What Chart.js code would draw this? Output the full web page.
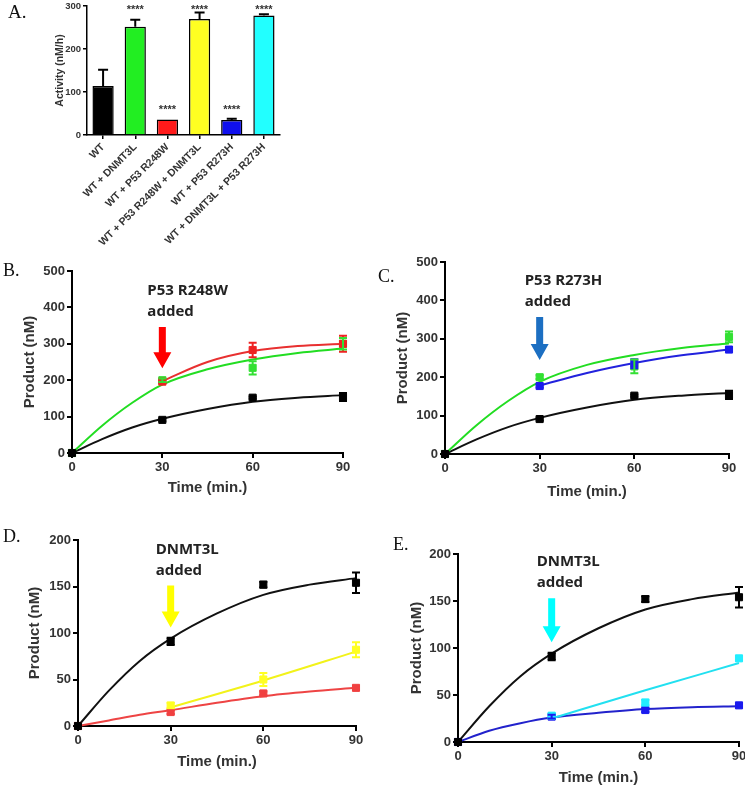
<!DOCTYPE html>
<html>
<head>
<meta charset="utf-8">
<script src="https://cdn.jsdelivr.net/npm/chart.js@4.4.1/dist/chart.umd.min.js"></script>
<style>
  body { margin: 0; background: #fff; overflow: hidden; }
  #fig { position: relative; width: 745px; height: 788px; overflow: hidden; background: #fff; }
  #fig canvas { position: absolute; }
  .lbl { position: absolute; font-family: 'Liberation Serif', serif; font-size: 18px; line-height: 18px; color: #111; }
</style>
</head>
<body>
<div id="fig">
  <canvas id="chartA"></canvas>
  <canvas id="chartB"></canvas>
  <canvas id="chartC"></canvas>
  <canvas id="chartD"></canvas>
  <canvas id="chartE"></canvas>
  <div class="lbl" style="left:8px;top:3px;font-size:19px">A.</div>
  <div class="lbl" style="left:3px;top:261px">B.</div>
  <div class="lbl" style="left:378px;top:267px">C.</div>
  <div class="lbl" style="left:3px;top:527px">D.</div>
  <div class="lbl" style="left:393px;top:535px">E.</div>
</div>
<script>
// ---- panel A : activite ----
const barLabels = ['WT', 'WT + DNMT3L', 'WT + P53 R248W', 'WT + P53 R248W + DNMT3L', 'WT + P53 R273H', 'WT + DNMT3L + P53 R273H'];
const barValues = [114, 252, 36, 270, 35, 278];
const barErrors = [38, 16, 0, 15, 3, 3];
const barStars = ['', '****', '****', '****', '****', '****'];
const starLevels = [0, 297, 65, 297, 65, 297];
const barColors = ['#000000', '#22ee22', '#ff1a1a', '#ffff22', '#1010ee', '#22ffff'];

// ---- temps ----
const times = [0, 30, 60, 90];
const lateTimes = [30, 60, 90];
const fitTimes = [0, 10, 20, 30, 45, 60, 75, 90];
const lateFitTimes = [30, 45, 60, 75, 90];

// WT seul (meme courbe dans B a E)
const wtValues = [0, 91, 152, 154];
const wtErrors = [0, 4, 3, 11];
const wtFit = [0, 38, 70, 94, 121, 141, 152, 159];

// panel B
const bGreenValues = [0, 200, 234, 300];
const bGreenErrors = [0, 5, 18, 16];
const bGreenFit = [0, 75, 138, 188, 230, 257, 275, 287];
const bRedValues = [196, 283, 300];
const bRedErrors = [5, 20, 22];
const bRedFit = [198, 250, 280, 294, 300];

// panel C
const cGreenValues = [0, 200, 228, 305];
const cGreenErrors = [0, 5, 18, 14];
const cGreenFit = [0, 75, 138, 188, 232, 258, 276, 288];
const cBlueValues = [177, 235, 272];
const cBlueErrors = [4, 12, 5];
const cBlueFit = [178, 211, 237, 257, 272];

// panel D
const dYellowValues = [22, 50, 82];
const dYellowErrors = [3, 7, 8];
const dYellowFit = [20, 49, 80];
const dRedValues = [0, 15, 35, 41];
const dRedErrors = [0, 2, 2, 2];
const dRedFit = [0, 6, 12, 17, 25, 32, 37, 41];

// panel E
const eCyanValues = [28, 42, 89];
const eCyanErrors = [2, 3, 2];
const eCyanFit = [25, 55, 84];
const eBlueValues = [0, 27, 34, 39];
const eBlueErrors = [0, 2, 2, 2];
const eBlueFit = [0, 12, 20, 26, 31, 35, 37, 38];

const FONT = "'Liberation Sans', Arial, sans-serif";
const TXT = '#333';

// barres d'erreur (dataset.errors)
const errorBars = {
  id: 'errorBars',
  afterDatasetsDraw(chart) {
    const ctx = chart.ctx;
    const y = chart.scales.y;
    chart.data.datasets.forEach((ds, i) => {
      if (!ds.errors) return;
      const meta = chart.getDatasetMeta(i);
      meta.data.forEach((el, j) => {
        const e = ds.errors[j];
        if (!e) return;
        const raw = ds.data[j];
        const v = typeof raw === 'object' ? raw.y : raw;
        const top = y.getPixelForValue(v + e);
        const bot = ds.upOnly ? el.y : y.getPixelForValue(v - e);
        const cap = ds.capWidth || 4;
        ctx.save();
        ctx.strokeStyle = ds.errorColor || ds.borderColor;
        ctx.lineWidth = 2;
        ctx.beginPath();
        ctx.moveTo(el.x, top); ctx.lineTo(el.x, bot);
        ctx.moveTo(el.x - cap, top); ctx.lineTo(el.x + cap, top);
        if (!ds.upOnly) { ctx.moveTo(el.x - cap, bot); ctx.lineTo(el.x + cap, bot); }
        ctx.stroke();
        ctx.restore();
      });
    });
  }
};

// etoiles au dessus des barres
const stars = {
  id: 'stars',
  afterDatasetsDraw(chart, args, opts) {
    if (!opts.labels) return;
    const ctx = chart.ctx;
    const meta = chart.getDatasetMeta(0);
    ctx.save();
    ctx.font = 'bold 11px ' + FONT;
    ctx.fillStyle = TXT;
    ctx.textAlign = 'center';
    ctx.textBaseline = 'alphabetic';
    meta.data.forEach((el, j) => {
      if (!opts.labels[j]) return;
      ctx.fillText(opts.labels[j], el.x, chart.scales.y.getPixelForValue(opts.levels[j]) + 6);
    });
    ctx.restore();
  }
};

// fleche "... added"
const addedNote = {
  id: 'addedNote',
  afterDraw(chart, args, opts) {
    if (!opts.lines) return;
    const ctx = chart.ctx;
    const x = chart.scales.x.getPixelForValue(opts.at);
    const top = chart.scales.y.getPixelForValue(opts.from);
    const bot = chart.scales.y.getPixelForValue(opts.to);
    const head = 16, hw = 9, sw = 3.5;
    ctx.save();
    ctx.fillStyle = opts.color;
    ctx.beginPath();
    ctx.moveTo(x - sw, top);
    ctx.lineTo(x + sw, top);
    ctx.lineTo(x + sw, bot - head);
    ctx.lineTo(x + hw, bot - head);
    ctx.lineTo(x, bot);
    ctx.lineTo(x - hw, bot - head);
    ctx.lineTo(x - sw, bot - head);
    ctx.closePath();
    ctx.fill();
    ctx.font = "bold 15px 'Open Sans', sans-serif";
    ctx.fillStyle = '#222';
    ctx.textAlign = 'left';
    ctx.textBaseline = 'middle';
    ctx.fillText(opts.lines[0], x - 15, top - 36);
    ctx.fillText(opts.lines[1], x - 15, top - 15);
    ctx.restore();
  }
};

Chart.register(errorBars, stars, addedNote);

function xy(xs, ys) {
  return xs.map((x, i) => ({ x: x, y: ys[i] }));
}

function pts(xs, ys, errs, color) {
  return {
    data: xy(xs, ys), errors: errs, showLine: false,
    pointStyle: 'rect', pointRadius: 5,
    pointBackgroundColor: color, pointBorderColor: color, borderColor: color,
    clip: false
  };
}

function fit(xs, ys, color) {
  return {
    data: xy(xs, ys), borderColor: color, borderWidth: 2, pointRadius: 0,
    cubicInterpolationMode: 'monotone', fill: false, clip: false
  };
}

function axisGrid(w, len) {
  return { drawOnChartArea: false, drawTicks: true, tickLength: len, color: '#000', lineWidth: w };
}

function place(id, box, area) {
  const c = document.getElementById(id);
  c.width = box.w;
  c.height = box.xt ? box.xt + 9 - box.y : box.h;
  c.style.left = box.x + 'px';
  c.style.top = box.y + 'px';
  return c;
}

// panel A
(function () {
  const box = { x: 0, y: -14, w: 380, h: 264 };
  const area = { l: 87, t: 6, r: 280, b: 135, yt: 60 };
  const canvas = place('chartA', box, area);
  new Chart(canvas, {
    type: 'bar',
    data: {
      labels: barLabels,
      datasets: [{
        data: barValues, errors: barErrors, upOnly: true, errorColor: '#000', capWidth: 5,
        backgroundColor: barColors, borderColor: '#000', borderWidth: 1.5,
        barPercentage: 0.66, categoryPercentage: 1
      }]
    },
    options: {
      responsive: false, animation: false, events: [],
      layout: { padding: { left: area.yt - 6 - box.x, top: area.t - box.y, right: box.x + box.w - area.r, bottom: 0 } },
      plugins: {
        legend: { display: false }, tooltip: { enabled: false },
        stars: { labels: barStars, levels: starLevels }
      },
      scales: {
        x: {
          grid: Object.assign(axisGrid(1.5, 4), { offset: false }),
          border: { color: '#000', width: 1.5 },
          ticks: { color: TXT, font: { family: FONT, size: 10.5, weight: 'bold' }, minRotation: 45, maxRotation: 45, autoSkip: false, padding: 2 },
          afterFit: s => { s.height = box.y + box.h - area.b; }
        },
        y: {
          min: 0, max: 300,
          grid: axisGrid(1.5, 4),
          border: { color: '#000', width: 1.5 },
          ticks: { stepSize: 100, color: TXT, font: { family: FONT, size: 9.5, weight: 'bold' }, padding: 2 },
          title: { display: true, text: 'Activity (nM/h)', color: TXT, padding: 0, font: { family: FONT, size: 10.5, weight: 'bold' } },
          afterFit: s => { s.width = area.l - (area.yt - 6); }
        }
      }
    }
  });
})();

function timeChart(id, box, area, yMax, yStep, datasets, note) {
  const canvas = place(id, box, area);
  const left = area.yt - 9;
  new Chart(canvas, {
    type: 'line',
    data: { datasets: datasets },
    options: {
      responsive: false, animation: false, events: [],
      layout: { padding: { left: left - box.x, top: area.t - box.y, right: box.x + box.w - area.r, bottom: 0 } },
      plugins: { legend: { display: false }, tooltip: { enabled: false }, addedNote: note },
      scales: {
        x: {
          type: 'linear', min: 0, max: 90,
          grid: axisGrid(2, 5),
          border: { color: '#000', width: 2 },
          ticks: { stepSize: 30, color: TXT, font: { family: FONT, size: 13, weight: 'bold' }, padding: 2 },
          title: { display: true, text: 'Time (min.)', color: TXT, padding: 0, font: { family: FONT, size: 15, weight: 'bold' } },
          afterFit: s => { s.height = box.xt + 9 - area.b; }
        },
        y: {
          min: 0, max: yMax,
          grid: axisGrid(2, 5),
          border: { color: '#000', width: 2 },
          ticks: { stepSize: yStep, color: TXT, font: { family: FONT, size: 13, weight: 'bold' }, padding: 2 },
          title: { display: true, text: 'Product (nM)', color: TXT, padding: 0, font: { family: FONT, size: 15, weight: 'bold' } },
          afterFit: s => { s.width = area.l - left; }
        }
      }
    }
  });
}

// panel B
timeChart('chartB',
  { x: 0, y: 250, w: 375, xt: 488 },
  { l: 72, t: 271, r: 343, b: 453, yt: 30 },
  500, 100,
  [
    pts(times, wtValues, wtErrors, '#000'),
    pts(lateTimes, bRedValues, bRedErrors, '#ee2222'),
    pts(times, bGreenValues, bGreenErrors, '#33e033'),
    fit(lateFitTimes, bRedFit, '#e83030'),
    fit(fitTimes, bGreenFit, '#22dd22'),
    fit(fitTimes, wtFit, '#111')
  ],
  { at: 30, from: 346, to: 233, color: '#ff0000', lines: ['P53 R248W', 'added'] }
);

// panel C
timeChart('chartC',
  { x: 375, y: 240, w: 385, xt: 492 },
  { l: 445, t: 262, r: 729, b: 454, yt: 403 },
  500, 100,
  [
    pts(times, wtValues, wtErrors, '#000'),
    pts(lateTimes, cBlueValues, cBlueErrors, '#1a1aee'),
    pts(times, cGreenValues, cGreenErrors, '#33e033'),
    fit(lateFitTimes, cBlueFit, '#2222dd'),
    fit(fitTimes, cGreenFit, '#22dd22'),
    fit(fitTimes, wtFit, '#111')
  ],
  { at: 30, from: 357, to: 245, color: '#1c6fc2', lines: ['P53 R273H', 'added'] }
);

// panel D
timeChart('chartD',
  { x: 0, y: 515, w: 375, xt: 762 },
  { l: 78, t: 540, r: 356, b: 726, yt: 35 },
  200, 50,
  [
    pts(times, wtValues, wtErrors, '#000'),
    pts(lateTimes, dYellowValues, dYellowErrors, '#ffff22'),
    pts(times, dRedValues, dRedErrors, '#f04040'),
    fit(lateTimes, dYellowFit, '#f2f21a'),
    fit(fitTimes, dRedFit, '#ee4444'),
    fit(fitTimes, wtFit, '#111')
  ],
  { at: 30, from: 151, to: 106, color: '#ffff00', lines: ['DNMT3L', 'added'] }
);

// panel E
timeChart('chartE',
  { x: 375, y: 530, w: 385, xt: 778 },
  { l: 458, t: 554, r: 739, b: 742, yt: 417 },
  200, 50,
  [
    pts(times, wtValues, wtErrors, '#000'),
    pts(lateTimes, eCyanValues, eCyanErrors, '#22eeff'),
    pts(times, eBlueValues, eBlueErrors, '#1a1aee'),
    fit(lateTimes, eCyanFit, '#22e0f0'),
    fit(fitTimes, eBlueFit, '#2222cc'),
    fit(fitTimes, wtFit, '#111')
  ],
  { at: 30, from: 153, to: 106, color: '#00ffff', lines: ['DNMT3L', 'added'] }
);
</script>
</body>
</html>
